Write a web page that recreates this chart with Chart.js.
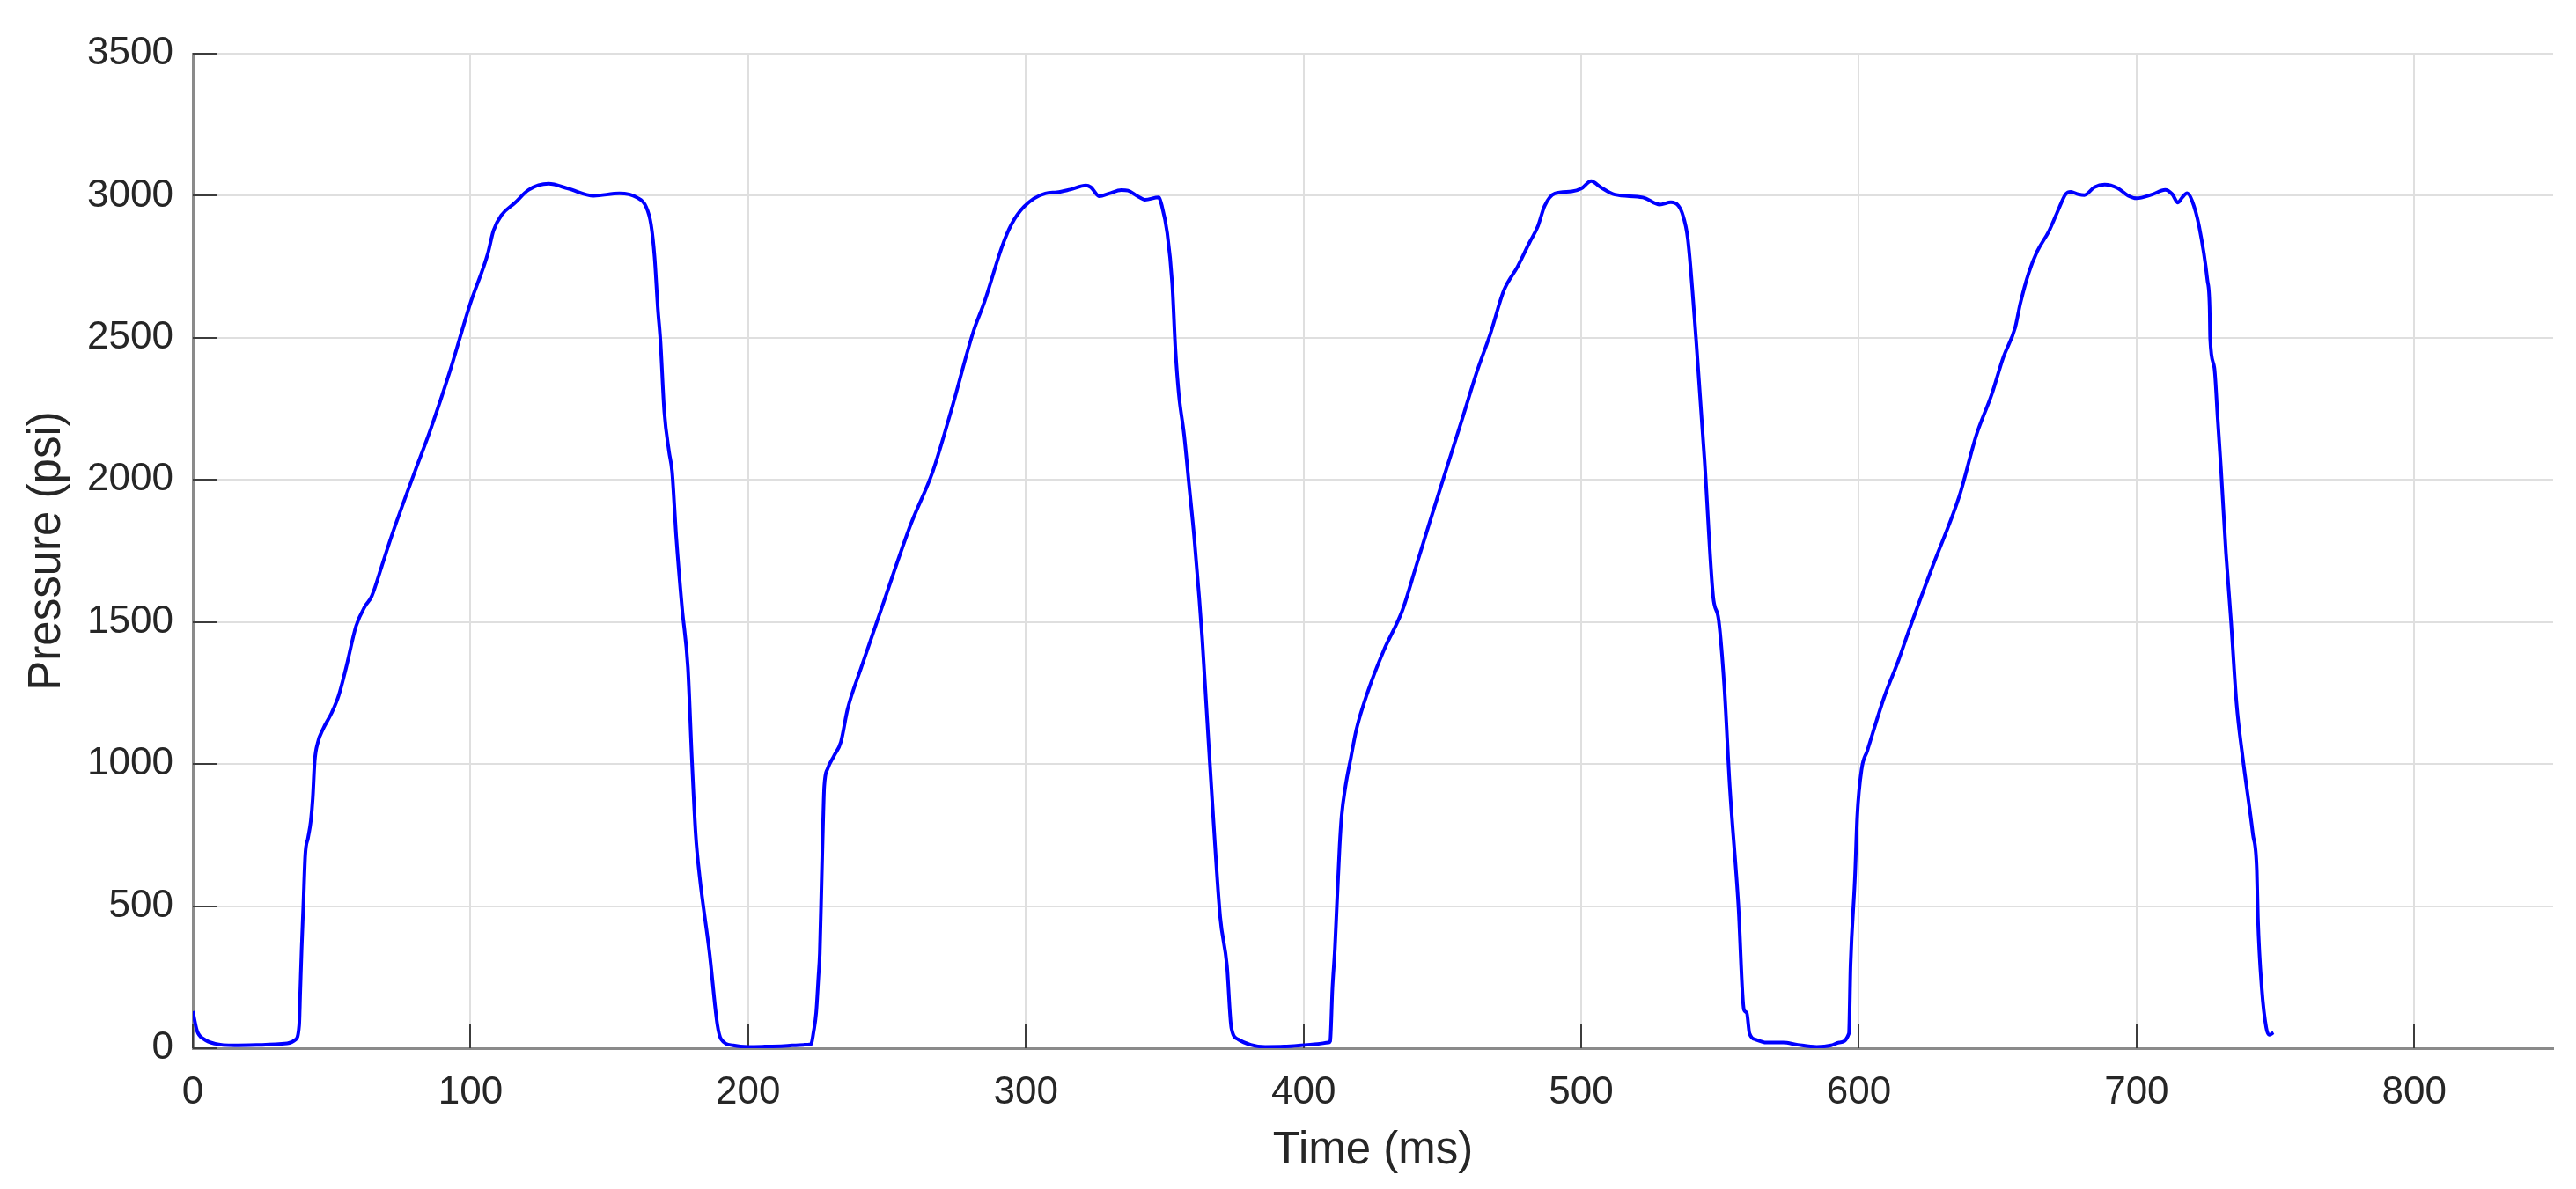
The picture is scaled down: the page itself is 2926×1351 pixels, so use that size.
<!DOCTYPE html>
<html>
<head>
<meta charset="utf-8">
<script src="https://cdn.jsdelivr.net/npm/chart.js@4.4.1/dist/chart.umd.min.js"></script>
<style>
  html, body { margin: 0; padding: 0; background: #ffffff; }
  #wrap { width: 2926px; height: 1351px; }
</style>
</head>
<body>
<div id="wrap"><canvas id="pressureChart" width="2926" height="1351"></canvas></div>
<script>
// Pressure trace as [time ms, pressure psi], one array per stroke
const cycle1 = [
  [0, 130], [1.5, 62], [4, 32], [8, 16], [15, 10], [25, 12], [34, 17], [37, 30], [38.3, 80], [38.7, 200],
  [39.2, 350], [39.8, 500], [40.5, 680], [41.5, 740], [42.5, 800], [43.2, 880], [43.9, 1010], [45, 1075], [47, 1125], [50, 1180],
  [52.5, 1240], [55.2, 1339], [58.8, 1486], [62, 1555], [64.4, 1590], [68, 1695], [71.5, 1800], [80, 2030], [85.6, 2177], [92.7, 2386],
  [99.8, 2617], [106.2, 2795], [108.3, 2878], [111.1, 2931], [116, 2975], [121, 3021], [128.1, 3042], [135.2, 3025], [144.4, 3000], [153.6, 3008],
  [159.9, 2994], [163.2, 2962], [165, 2900], [166.3, 2784], [167.5, 2600], [168.4, 2491], [169.8, 2240], [171.5, 2100], [172.6, 2030], [174.1, 1800],
  [176.2, 1549], [178.3, 1339], [179.7, 1025], [181.1, 753], [182.5, 606], [186.1, 334], [188.9, 83], [190.3, 31], [194.6, 10], [200, 5],
]

const cycle2 = [
  [206, 6], [213, 8], [220, 12], [222.6, 14], [223.6, 60], [224.5, 125], [225.3, 250], [225.8, 334], [226.5, 606], [227, 800],
  [227.4, 921], [228.6, 983], [231, 1030], [233.4, 1078], [235.8, 1193], [240.7, 1339], [248.8, 1570], [258.5, 1842], [266.5, 2030], [273, 2240],
  [281.1, 2522], [285.1, 2627], [291.6, 2826], [294.8, 2899], [299.4, 2962], [307, 3008], [311.2, 3012], [316, 3022], [321.6, 3036], [323.4, 3030],
  [326.5, 2998], [330, 3008], [334.4, 3020], [336.8, 3018], [340, 3000], [342.9, 2986], [347.8, 2994], [349, 2964], [350.9, 2870], [352.7, 2692],
  [353.9, 2454], [355.1, 2300], [357, 2158], [358.8, 1980], [360.6, 1802], [362.4, 1589], [363.5, 1444], [365.2, 1172], [367.6, 795], [370, 460],
  [372.4, 293], [374, 72], [376.5, 31], [381, 12], [386.2, 5], [393, 6], [399.1, 10], [405, 15], [409, 20],
]

const cycle3 = [
  [409.6, 25], [410.4, 209], [411.3, 350], [412, 502], [413, 711], [413.7, 816], [415.1, 921], [417.1, 1025], [419, 1120], [423.2, 1256],
  [428.9, 1400], [435.6, 1541], [440.5, 1695], [445.4, 1850], [451.5, 2040], [457.6, 2229], [462.4, 2380], [467.3, 2515], [472.2, 2668], [477.1, 2751],
  [481.3, 2834], [484.4, 2893], [486.8, 2964], [490.5, 3008], [496.6, 3015], [500, 3025], [503.6, 3052], [507, 3030], [512.1, 3004], [522.2, 2994],
  [528.3, 2969], [532.3, 2977], [535, 2965], [536.3, 2941], [538.4, 2847], [541.4, 2491], [544.4, 2072], [547.5, 1591], [549.5, 1507], [551.5, 1277],
  [553.5, 921], [556.6, 502], [558.6, 135], [559.6, 125], [560.6, 52], [563, 30], [566.7, 20], [572.7, 20], [578, 12], [584.8, 5],
  [590, 10], [592.9, 20], [596.4, 52],
]

const cycle4 = [
  [597, 293], [598.6, 606], [599.4, 816], [601, 983], [603, 1046], [609.1, 1235], [614.3, 1366], [618, 1470], [626.5, 1695], [636.2, 1944],
  [642.3, 2158], [647.8, 2300], [652, 2431], [656.3, 2537], [658.1, 2620], [661.1, 2727], [664.2, 2804], [668.4, 2875], [671.4, 2941], [674.5, 3006],
  [676.3, 3014], [679, 3005], [681.2, 3002], [684.8, 3030], [688.5, 3039], [693.3, 3026], [697, 3000], [700, 2991], [705.5, 3004], [710.3, 3021],
  [712.8, 3006], [714.9, 2976], [716.5, 2995], [718.2, 3009], [720, 2982], [722.5, 2893], [725.5, 2703], [726.3, 2609], [726.5, 2496], [728, 2395],
  [729.2, 2217], [730.4, 2039], [732.2, 1743], [734, 1506], [736, 1214], [738.2, 1025], [741.9, 753], [743.3, 627], [743.7, 460], [745.1, 209],
  [746.7, 72], [747.7, 47], [749.3, 55],
]

const xTicks = [0, 100, 200, 300, 400, 500, 600, 700, 800]
const yTicks = [0, 500, 1000, 1500, 2000, 2500, 3000, 3500]

const FONT = "'Liberation Sans', Arial, Helvetica, sans-serif"
const TEXT = "#262626"

// MATLAB-style inward tick marks on the left and bottom axes
const inwardTicks = {
  id: "inwardTicks",
  beforeDatasetsDraw(chart) {
    const { ctx, chartArea, scales } = chart
    ctx.save()
    ctx.strokeStyle = "#3c3c3c"
    ctx.lineWidth = 2
    ctx.beginPath()
    xTicks.forEach((v) => {
      const px = Math.round(scales.x.getPixelForValue(v))
      ctx.moveTo(px, chartArea.bottom)
      ctx.lineTo(px, chartArea.bottom - 27)
    })
    yTicks.forEach((v) => {
      const py = Math.round(scales.y.getPixelForValue(v))
      ctx.moveTo(chartArea.left, py)
      ctx.lineTo(chartArea.left + 27, py)
    })
    ctx.stroke()
    ctx.restore()
  },
}

function createPressureChart() {
  const ctx = document.getElementById("pressureChart").getContext("2d")
  const points = [...cycle1, ...cycle2, ...cycle3, ...cycle4].map(([t, p]) => ({ x: t, y: p }))

  new Chart(ctx, {
    type: "line",
    data: {
      datasets: [
        {
          data: points,
          borderColor: "#0000ff",
          borderWidth: 4,
          pointRadius: 0,
          fill: false,
          cubicInterpolationMode: "monotone",
        },
      ],
    },
    options: {
      responsive: false,
      devicePixelRatio: 1,
      animation: false,
      layout: { padding: { top: 61, right: 26, left: 0, bottom: 0 } },
      plugins: {
        legend: { display: false },
        tooltip: { enabled: false },
      },
      scales: {
        x: {
          type: "linear",
          min: 0,
          max: 850,
          afterFit: (scale) => { scale.height = 160 },
          afterBuildTicks: (scale) => { scale.ticks = xTicks.map((v) => ({ value: v })) },
          ticks: {
            color: TEXT,
            padding: 24,
            maxRotation: 0,
            autoSkip: false,
            callback: (value) => String(value),
            font: { family: FONT, size: 44 },
          },
          grid: { color: "#dfdfdf", lineWidth: 2, drawTicks: false },
          border: { display: true, color: "#8a8a8a", width: 3 },
          title: {
            display: true,
            text: "Time (ms)",
            color: TEXT,
            font: { family: FONT, size: 51 },
            padding: { top: 0, bottom: 12 },
          },
        },
        y: {
          min: 0,
          max: 3500,
          afterFit: (scale) => { scale.width = 219 },
          afterBuildTicks: (scale) => { scale.ticks = yTicks.map((v) => ({ value: v })) },
          ticks: {
            color: TEXT,
            padding: 22,
            callback: (value) => String(value),
            font: { family: FONT, size: 44 },
          },
          grid: { color: "#dfdfdf", lineWidth: 2, drawTicks: false },
          border: { display: true, color: "#8a8a8a", width: 3 },
          title: {
            display: true,
            text: "Pressure (psi)",
            color: TEXT,
            font: { family: FONT, size: 51 },
            padding: { top: 23, bottom: 0 },
          },
        },
      },
    },
    plugins: [inwardTicks],
  })
}

document.addEventListener("DOMContentLoaded", () => {
  createPressureChart()
})
</script>
</body>
</html>
